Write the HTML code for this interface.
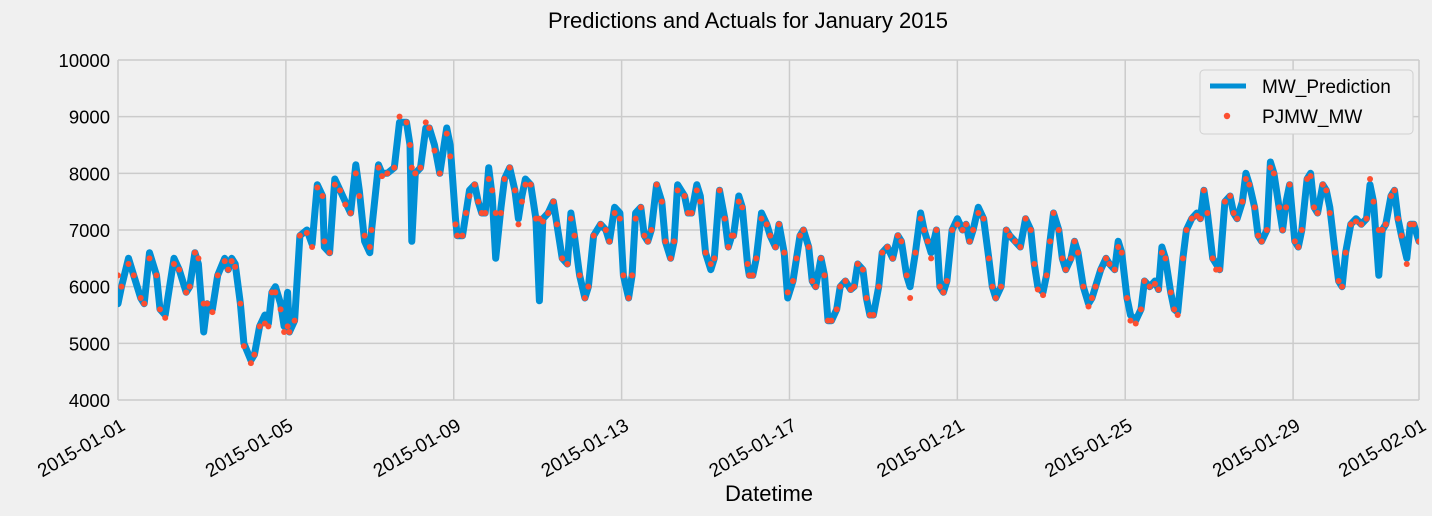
<!DOCTYPE html>
<html><head><meta charset="utf-8"><style>
body{margin:0;background:#f0f0f0;}
svg{display:block;font-family:"Liberation Sans","DejaVu Sans",sans-serif;}
</style></head><body>
<svg id="chart" width="1432" height="516" viewBox="0 0 1432 516">
<rect x="0" y="0" width="1432" height="516" fill="#f0f0f0"/>
<text x="748" y="28" font-size="22" text-anchor="middle" fill="#000">Predictions and Actuals for January 2015</text>
<g id="grid"></g><g id="yticks"></g><g id="xticks"></g>
<defs><clipPath id="pc"><rect x="118" y="60" width="1301" height="340"/></clipPath></defs>
<g id="series" clip-path="url(#pc)"></g>
<text x="769" y="501" font-size="22" text-anchor="middle">Datetime</text>
<g>
<rect x="1200" y="70" width="213" height="64" rx="4" fill="#f0f0f0" stroke="#d0d0d0"/>
<line x1="1210" y1="86" x2="1246" y2="86" stroke="#008fd5" stroke-width="5"/>
<text x="1262" y="93" font-size="19">MW_Prediction</text>
<circle cx="1227" cy="116" r="3.2" fill="#fc4f30"/>
<text x="1262" y="123" font-size="19">PJMW_MW</text>
</g>
</svg>
<script>
const hours=[0,2,6,9,13,15,18,22,24,27,32,35,39,41,44,46,49,51,54,57,61,63,65,67,70,72,76,78,81,84,86,88,90,93,95,97,98,101,104,108,111,114,117,118,121,124,127,130,133,136,138,141,144,145,149,151,154,158,161,165,167,168,170,173,176,178,181,184,188,190,193,194,197,199,201,204,206,208,210,212,214,216,219,221,224,227,229,231,233,236,239,241,243,246,249,251,254,257,259,261,264,267,269,272,276,279,281,284,287,289,292,294,296,299,301,303,305,308,311,313,316,318,320,324,326,328,331,333,336,339,341,344,347,349,351,352,355,357,360,361,363,365,368,371,373,376,378,381,383,386,388,390,392,395,397,399,402,404,406,408,411,413,416,419,421,423,426,428,430,432,435,437,440,443,446,448,451,453,456,459,461,463,465,468,470,472,474,477,480,483,485,487,489,492,495,498,500,502,505,508,510,513,516,519,522,524,526,529,531,533,535,538,540,542,545,547,549,552,555,557,559,562,565,567,570,572,574,577,579,582,585,587,590,593,595,597,599,602,604,606,609,611,614,617,619,621,623,626,628,630,633,636,638,640,643,645,647,650,652,654,657,659,661,664,666,668,670,673,675,677,680,682,684,686,689,691,693,696,698,700,702,705,708,711,714,716,718,721,723,725,728,730,732,734,737,739,741,744];
const prediction=[5700,6000,6500,6200,5800,5700,6600,6200,5600,5500,6500,6300,5900,6000,6600,6400,5200,5700,5600,6200,6500,6300,6500,6400,5700,5000,4700,4800,5300,5500,5350,5900,6000,5700,5300,5900,5200,5400,6900,7000,6750,7800,7600,6700,6600,7900,7700,7500,7300,8150,7700,6800,6600,7000,8150,8000,8000,8100,8900,8900,8500,6800,8000,8100,8800,8800,8500,8000,8800,8500,7200,6900,6900,7300,7700,7800,7500,7300,7300,8100,7600,6500,7400,7900,8100,7700,7200,7600,7900,7800,7200,5750,7200,7300,7500,7100,6500,6400,7300,6900,6200,5800,6000,6900,7100,7000,6800,7400,7300,6200,5800,6200,7300,7400,6900,6800,7000,7800,7500,6800,6500,6800,7800,7600,7300,7300,7800,7600,6600,6300,6500,7700,7200,6700,6900,6900,7600,7400,6400,6200,6200,6500,7300,7100,6900,6700,7100,6600,5800,6100,6500,6900,7000,6700,6100,6000,6500,6200,5400,5400,5600,6000,6100,5950,6000,6400,6300,5800,5500,5500,6000,6600,6700,6500,6900,6800,6200,6000,6600,7300,7000,6800,6600,7000,6000,5900,6100,7000,7200,7000,7100,6800,7000,7400,7200,6500,6000,5800,6000,7000,6900,6800,6700,7200,7000,6400,6000,5900,6200,6800,7300,7000,6500,6300,6500,6800,6600,6000,5700,5800,6000,6300,6500,6400,6300,6800,6600,5800,5500,5400,5600,6100,6000,6100,5950,6700,6500,5900,5600,5550,6500,7000,7200,7300,7200,7700,7300,6500,6400,6300,7500,7600,7300,7200,7500,8000,7800,7400,6900,6800,7000,8200,8000,7400,7000,7500,7800,6800,6700,7000,7900,8000,7400,7300,7800,7700,7400,6600,6100,6000,6600,7100,7200,7100,7200,7800,7500,6200,7000,7100,7600,7700,7200,6900,6500,7100,7100,6800];
const actual=[6200,6000,6400,6200,5800,5700,6500,6200,5600,5450,6400,6300,5900,6000,6600,6500,5700,5700,5550,6200,6450,6300,6450,6350,5700,4950,4650,4800,5300,5350,5300,5900,5900,5600,5200,5300,5200,5400,6900,6950,6700,7750,7600,6800,6600,7800,7700,7450,7300,8000,7600,6900,6700,7000,8100,7950,8000,8100,9000,8900,8500,8100,8000,8100,8900,8800,8400,8000,8700,8300,7100,6900,6900,7300,7600,7800,7500,7300,7300,7900,7700,7300,7300,7900,8100,7700,7100,7500,7800,7800,7200,7200,7150,7300,7500,7100,6500,6400,7200,6900,6200,5800,6000,6900,7100,7000,6800,7300,7200,6200,5800,6200,7200,7400,6900,6800,7000,7800,7500,6800,6500,6800,7700,7600,7300,7300,7700,7500,6600,6400,6500,7700,7200,6700,6900,6900,7500,7400,6400,6200,6200,6500,7200,7100,6900,6700,7100,6600,5900,6100,6500,6900,7000,6700,6100,6000,6500,6200,5400,5400,5600,6000,6100,5950,6000,6400,6300,5800,5500,5500,6000,6600,6700,6500,6900,6800,6200,5800,6600,7200,7000,6800,6500,7000,6000,5900,6100,7000,7100,7000,7100,6800,7000,7300,7200,6500,6000,5800,6000,7000,6900,6800,6700,7200,7000,6400,5950,5850,6200,6800,7300,7000,6500,6300,6500,6800,6600,6000,5650,5800,6000,6300,6500,6400,6300,6700,6600,5800,5400,5350,5600,6100,6000,6050,5950,6600,6500,5900,5600,5500,6500,7000,7200,7250,7200,7700,7300,6500,6300,6300,7500,7600,7300,7200,7500,7900,7800,7400,6900,6800,7000,8100,8000,7400,7000,7400,7800,6800,6700,7000,7900,7950,7400,7300,7800,7700,7300,6600,6100,6000,6600,7100,7150,7100,7200,7900,7500,7000,7000,7100,7600,7700,7200,6900,6400,7100,7100,6800];
const yTickValues=[4000,5000,6000,7000,8000,9000,10000];
const xTickLabels=["2015-01-01","2015-01-05","2015-01-09","2015-01-13","2015-01-17","2015-01-21","2015-01-25","2015-01-29","2015-02-01"];
const xTickDays=[0,4,8,12,16,20,24,28,31];

const NS="http://www.w3.org/2000/svg";
const X0=118,X1=1419,Y0=400,Y1=60;
function xs(h){return X0+(X1-X0)*h/744;}
function ys(v){return Y0-(Y0-Y1)*(v-4000)/6000;}
function mk(t,a,p){const e=document.createElementNS(NS,t);for(const k in a)e.setAttribute(k,a[k]);p.appendChild(e);return e;}
const grid=document.getElementById('grid'),yt=document.getElementById('yticks'),xt=document.getElementById('xticks'),ser=document.getElementById('series');
yTickValues.forEach(v=>{
  const l=mk('line',{x1:X0,x2:X1,y1:ys(v),y2:ys(v),stroke:'#cbcbcb','stroke-width':1.5},grid);
  
  
  const t=mk('text',{x:110,y:ys(v)+7,'font-size':18.5,'text-anchor':'end'},yt);
  t.textContent=v;
  
  
});
xTickDays.forEach((d,i)=>{
  const x=xs(d*24);
  const l=mk('line',{x1:x,x2:x,y1:Y1,y2:Y0,stroke:'#cbcbcb','stroke-width':1.5},grid);
  
  
  const t=mk('text',{x:x+2,y:418,'font-size':19,'text-anchor':'end',transform:`rotate(-30 ${x+2} 418)`,'dominant-baseline':'hanging'},xt);
  t.textContent=xTickLabels[i];
  
  
});
const pts=hours.map((h,i)=>xs(h).toFixed(1)+','+ys(prediction[i]).toFixed(1)).join(' ');
const pl=mk('polyline',{points:pts,fill:'none',stroke:'#008fd5','stroke-width':7,'stroke-linejoin':'round','stroke-linecap':'round'},ser);


hours.forEach((h,i)=>{
  const c=mk('circle',{cx:xs(h),cy:ys(actual[i]),r:3,fill:'#fc4f30'},ser);
  
  
});
</script>
</body></html>
